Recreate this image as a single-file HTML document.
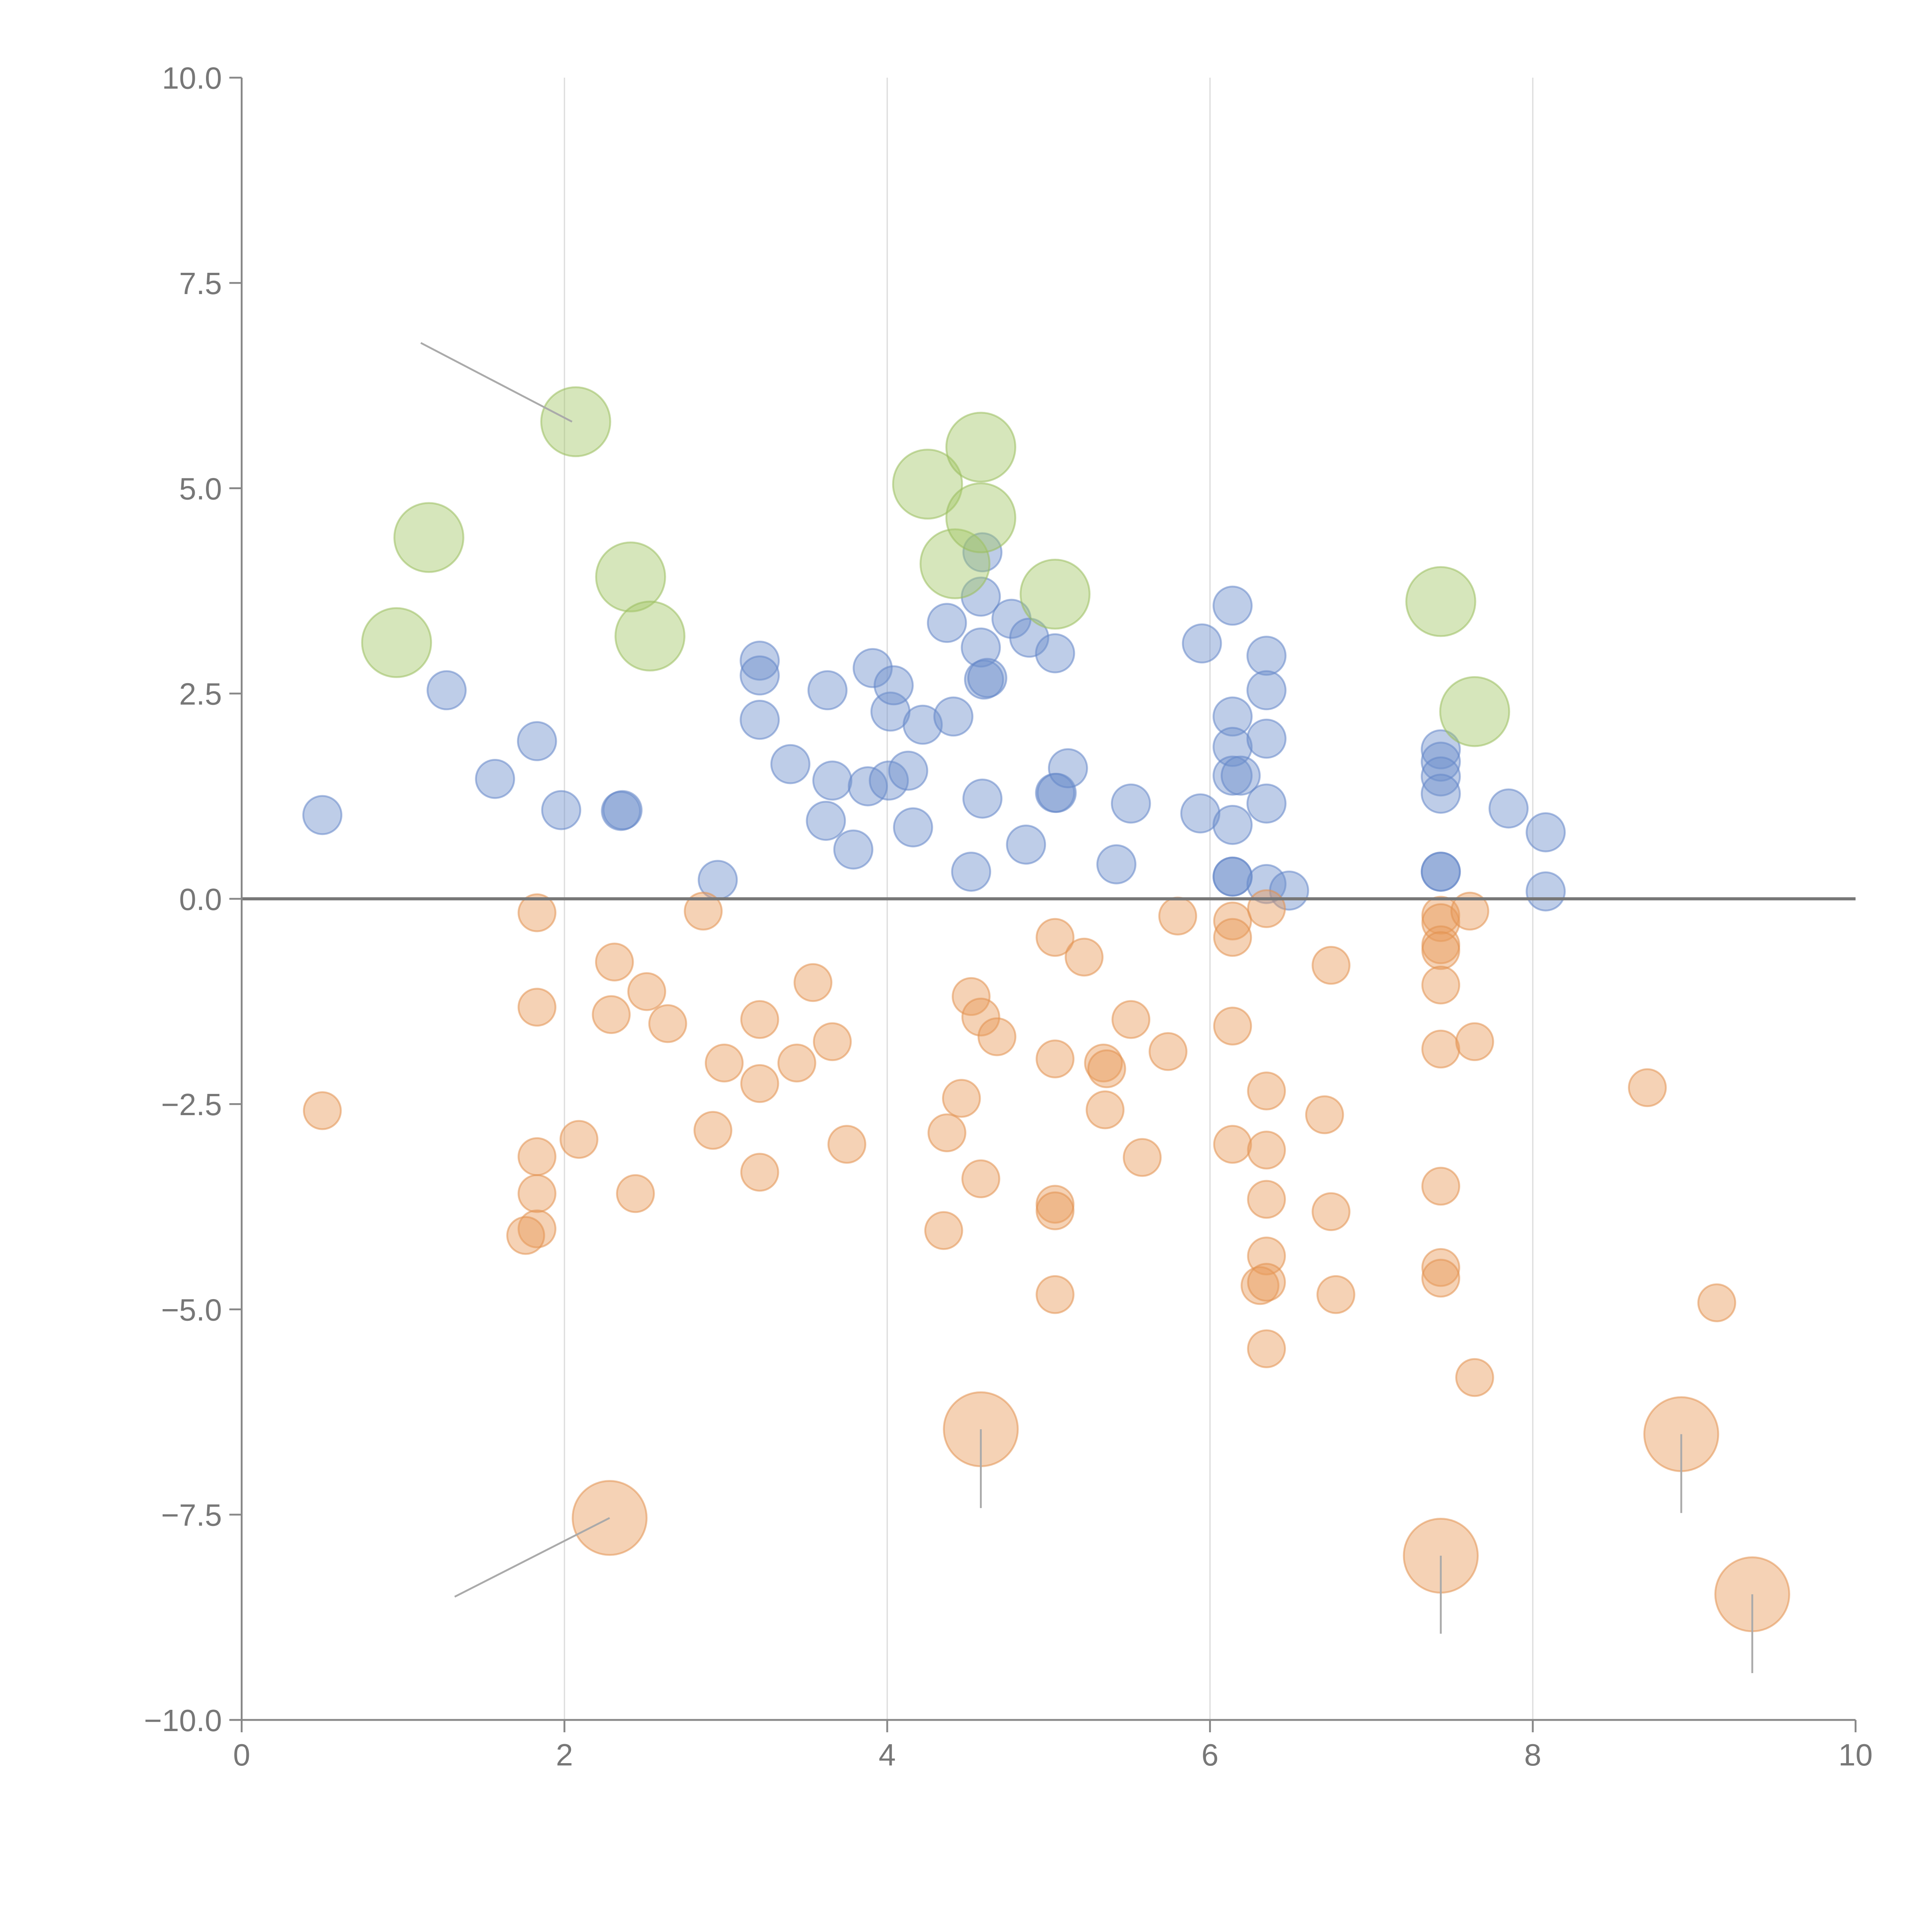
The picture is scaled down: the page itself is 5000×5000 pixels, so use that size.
<!DOCTYPE html>
<html><head><meta charset="utf-8"><style>
html,body{margin:0;padding:0;background:#fff;width:5000px;height:5000px;overflow:hidden}
svg{display:block}
text{font-family:"Liberation Sans",sans-serif;fill:#777;font-size:25px}
</style></head><body>
<svg id="chart" width="5000" height="5000" viewBox="0 0 1567 1567" xmlns="http://www.w3.org/2000/svg">
<g id="grid"></g>
<g id="marks"></g>
<g id="axes"></g>
</svg>
<script>
const xTicks=[0,2,4,6,8,10];
const yTicks=[10,7.5,5,2.5,0,-2.5,-5,-7.5,-10];
const yTickLabels=["10.0","7.5","5.0","2.5","0.0","\u22122.5","\u22125.0","\u22127.5","\u221210.0"];
const blueX=[0.5,1.27,1.57,1.83,1.98,2.35,2.36,2.95,3.21,3.21,3.21,3.4,3.63,3.66,3.62,3.79,3.88,3.91,4.01,4.02,4.04,4.13,4.16,4.22,4.37,4.41,4.52,4.58,4.59,4.58,4.59,4.6,4.62,4.77,4.86,4.88,5.04,5.04,5.05,5.12,5.42,5.51,5.94,5.95,6.14,6.14,6.14,6.14,6.14,6.14,6.14,6.19,6.35,6.35,6.35,6.35,6.35,6.49,7.43,7.43,7.43,7.43,7.43,7.43,7.85,8.08,8.08];
const blueY=[1.02,2.54,1.46,1.92,1.08,1.07,1.08,0.23,2.9,2.72,2.18,1.64,2.54,1.44,0.95,0.6,1.37,2.81,1.44,2.28,2.6,1.56,0.87,2.12,3.36,2.22,0.33,3.68,4.22,3.06,1.22,2.67,2.69,3.41,0.66,3.18,2.99,1.29,1.29,1.59,0.42,1.16,1.04,3.11,3.57,2.22,1.85,0.9,0.27,0.27,1.5,1.5,2.96,2.54,1.95,1.16,0.18,0.1,1.82,1.67,1.49,1.28,0.33,0.33,1.1,0.81,0.09];
const orangeX=[0.5,1.83,1.83,1.83,1.83,1.83,1.76,2.09,2.31,2.29,2.44,2.51,2.64,2.86,2.92,2.99,3.21,3.21,3.21,3.44,3.54,3.66,3.75,4.35,4.37,4.46,4.52,4.58,4.58,4.68,5.04,5.04,5.04,5.04,5.04,5.22,5.34,5.36,5.35,5.51,5.58,5.74,5.8,6.14,6.14,6.14,6.14,6.35,6.35,6.35,6.35,6.35,6.31,6.35,6.35,6.71,6.75,6.75,6.78,7.43,7.43,7.43,7.43,7.43,7.43,7.43,7.43,7.43,7.61,7.64,7.64,8.71,9.14];
const orangeY=[-2.58,-0.17,-1.32,-3.14,-3.59,-4.02,-4.1,-2.93,-0.77,-1.41,-3.59,-1.13,-1.52,-0.15,-2.82,-2.0,-1.47,-2.25,-3.33,-2.0,-1.02,-1.74,-2.99,-4.04,-2.85,-2.43,-1.19,-1.44,-3.41,-1.68,-0.47,-1.95,-3.72,-3.8,-4.82,-0.71,-2.0,-2.07,-2.57,-1.47,-3.15,-1.86,-0.21,-0.27,-0.47,-1.55,-2.99,-0.12,-2.34,-3.06,-3.66,-4.35,-4.71,-4.67,-5.48,-2.63,-0.81,-3.81,-4.82,-0.2,-0.29,-0.56,-0.63,-1.05,-1.83,-3.5,-4.49,-4.62,-0.15,-1.74,-5.83,-2.3,-4.92];
const bigOrangeX=[2.28,4.58,7.43,8.92,9.36];
const bigOrangeY=[-7.54,-6.46,-8.0,-6.52,-8.47];
const bigOrangeLabelX=[1.32,4.58,7.43,8.92,9.36];
const bigOrangeLabelY=[-8.5,-7.42,-8.95,-7.48,-9.43];
const greenX=[0.96,1.16,2.07,2.41,2.53,4.25,4.42,4.58,4.58,5.04,7.43,7.64];
const greenY=[3.12,4.4,5.81,3.92,3.2,5.05,4.08,5.5,4.64,3.71,3.62,2.28];
const greenLabelX=[1.11];
const greenLabelY=[6.77];
const NS="http://www.w3.org/2000/svg";
const X0=196,X1=1505,Y0=1395,Y1=63;
function sx(v){return X0+(v-0)/(10-0)*(X1-X0);}
function sy(v){return Y0-(v+10)/20*(Y0-Y1);}
function el(tag,attrs,parent){const e=document.createElementNS(NS,tag);for(const k in attrs)e.setAttribute(k,attrs[k]);parent.appendChild(e);return e;}
const grid=document.getElementById('grid'),marks=document.getElementById('marks'),axes=document.getElementById('axes');
xTicks.forEach(t=>{if(t>0&&t<10){const l=el('line',{x1:sx(t),x2:sx(t),y1:Y1,y2:Y0,stroke:'#dcdcdc','stroke-width':1},grid);

}});
function circles(xs,ys,r,fill,stroke,name){xs.forEach((x,i)=>{const c=el('circle',{cx:sx(x),cy:sy(ys[i]),r:r,fill:fill,stroke:stroke,'stroke-width':1.5},marks);

});}
circles(blueX,blueY,15.5,'rgba(110,145,205,0.45)','rgba(100,135,200,0.55)','blue-bubble');
circles(orangeX,orangeY,15,'rgba(232,155,90,0.45)','rgba(225,145,80,0.55)','orange-bubble');
circles(greenX,greenY,28,'rgba(165,200,105,0.45)','rgba(155,190,95,0.55)','green-bubble');
circles(bigOrangeX,bigOrangeY,30,'rgba(232,155,90,0.45)','rgba(225,145,80,0.55)','large-orange-bubble');
bigOrangeX.forEach((x,i)=>{const l=el('line',{x1:sx(x),y1:sy(bigOrangeY[i]),x2:sx(bigOrangeLabelX[i]),y2:sy(bigOrangeLabelY[i]),stroke:'#aaa','stroke-width':1.5},marks);

});
{const l=el('line',{x1:sx(greenX[2])-3,y1:sy(greenY[2]),x2:sx(greenLabelX[0]),y2:sy(greenLabelY[0]),stroke:'#aaa','stroke-width':1.5},marks);

}
{const z=el('line',{x1:X0,x2:X1,y1:sy(0),y2:sy(0),stroke:'#777','stroke-width':2.5},axes);

}
{const a=el('line',{x1:X0,x2:X0,y1:Y1,y2:Y0,stroke:'#888','stroke-width':1.5},axes);


const b=el('line',{x1:X0,x2:X1,y1:Y0,y2:Y0,stroke:'#888','stroke-width':1.5},axes);

}
yTicks.forEach((t,i)=>{const tk=el('line',{x1:X0-10,x2:X0,y1:sy(t),y2:sy(t),stroke:'#888','stroke-width':1.5},axes);


const tx=el('text',{x:X0-16,y:sy(t)+9,'text-anchor':'end'},axes);tx.textContent=yTickLabels[i];

});
xTicks.forEach(t=>{const tk=el('line',{x1:sx(t),x2:sx(t),y1:Y0,y2:Y0+10,stroke:'#888','stroke-width':1.5},axes);


const tx=el('text',{x:sx(t),y:Y0+37,'text-anchor':'middle'},axes);tx.textContent=String(t);

});
</script>
</body></html>
